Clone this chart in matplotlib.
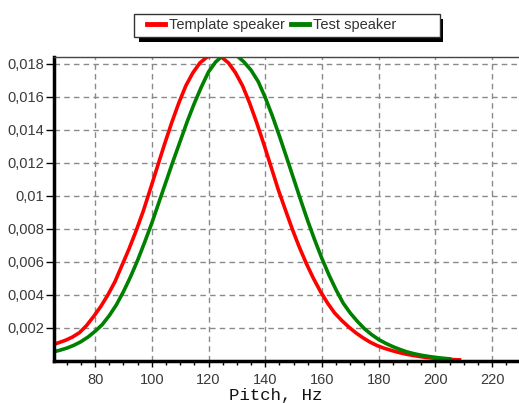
import matplotlib
matplotlib.use('Agg')
import matplotlib.pyplot as plt
from matplotlib.patches import Rectangle
from matplotlib.lines import Line2D
from matplotlib.ticker import MultipleLocator

# values (the peaks go just past the top of the axes)
red_hz = [65, 67, 69.5, 72, 74.5, 77, 79.5, 82, 84.5, 87, 89.5, 92, 94.5, 97,
          99.5, 102, 104.5, 107, 109.5, 112, 114.5, 117, 119.5, 122, 124.5,
          127, 129.5, 132, 134.5, 137, 139.5, 142, 144.5, 147, 149.5, 152,
          154.5, 157, 159.5, 162, 164.5, 167, 169.5, 172, 174.5, 177, 179.5,
          182, 184.5, 187, 189.5, 192, 194.5, 197, 199.5, 202, 204.5, 207, 208.5]
red_val = [0.00098, 0.0011, 0.00125, 0.00145, 0.00172, 0.00215, 0.0027,
           0.0033, 0.0040, 0.0048, 0.0058, 0.0068, 0.0079, 0.00908, 0.01042,
           0.01178, 0.01313, 0.01442, 0.01561, 0.01666, 0.01745, 0.01805,
           0.0184, 0.0185, 0.0184, 0.01805, 0.01745, 0.01666, 0.01561,
           0.01442, 0.01313, 0.01178, 0.01042, 0.0092, 0.0080, 0.0069, 0.0059,
           0.0050, 0.0042, 0.0035, 0.0029, 0.00245, 0.00205, 0.0017, 0.0014,
           0.00114, 0.00093, 0.00077, 0.00064, 0.00052, 0.00042, 0.00034,
           0.00027, 0.00021, 0.00017, 0.00013, 0.0001, 0.00008, 0.00007]
green_hz = [65, 67.5, 70, 72.5, 75, 77.5, 80, 82.5, 85, 87.5, 90, 92.5, 95,
            97.5, 100, 102.5, 105, 107.5, 110, 112.5, 115, 117.5, 120, 122.5,
            125, 127.5, 130, 132.5, 135, 137.5, 140, 142.5, 145, 147.5, 150,
            152.5, 155, 157.5, 160, 162.5, 165, 167.5, 170, 172.5, 175, 177.5,
            180, 182.5, 185, 187.5, 190, 192.5, 195, 197.5, 200, 202.5, 205]
green_val = [0.00054, 0.00065, 0.00078, 0.00095, 0.00117, 0.00145, 0.0018,
             0.0022, 0.00275, 0.0034, 0.0042, 0.0051, 0.0061, 0.0072, 0.00835,
             0.0096, 0.01085, 0.0121, 0.0133, 0.0145, 0.0156, 0.0166, 0.0175,
             0.0181, 0.01848, 0.0186, 0.01848, 0.0181, 0.0176, 0.01692,
             0.01595, 0.01484, 0.01362, 0.01234, 0.01104, 0.00974, 0.00848,
             0.0073, 0.0062, 0.0052, 0.0043, 0.0035, 0.0029, 0.0024, 0.00195,
             0.0016, 0.0013, 0.00107, 0.00087, 0.0007, 0.00055, 0.00044,
             0.00035, 0.00028, 0.00022, 0.00017, 0.00013]

x_ticks = [80, 100, 120, 140, 160, 180, 200, 220]
y_ticks = [0.002, 0.004, 0.006, 0.008, 0.01, 0.012, 0.014, 0.016, 0.018]
y_tick_labels = ['0,002', '0,004', '0,006', '0,008', '0,01', '0,012',
                 '0,014', '0,016', '0,018']
series_names = ['Template speaker', 'Test speaker']
series_colors = ['#ff0000', '#008000']

plt.rcParams['font.family'] = ['Liberation Sans', 'DejaVu Sans']

W, H = 519, 403
fig = plt.figure(figsize=(W / 100, H / 100), dpi=100)
ax = fig.add_axes([54 / W, 1 - 361 / H, 1 - 54 / W, (361 - 57) / H])

ax.plot(red_hz, red_val, color=series_colors[0], lw=2.6)
ax.plot(green_hz, green_val, color=series_colors[1], lw=2.6)

ax.set_xlim(65.5, 229.5)
ax.set_ylim(0, 0.0184)
ax.set_xticks(x_ticks)
ax.xaxis.set_minor_locator(MultipleLocator(5))
ax.set_yticks(y_ticks)
ax.set_yticklabels(y_tick_labels)

ax.grid(True, which='major', color='#8a8a8a', linestyle=(0, (4, 3)), lw=1)
ax.set_axisbelow(True)

for s in ['left', 'bottom']:
    ax.spines[s].set_linewidth(2.5)
    ax.spines[s].set_color('black')
ax.spines['top'].set_linewidth(1)
ax.spines['top'].set_color('#444444')
ax.spines['right'].set_visible(False)

ax.tick_params(axis='x', which='major', direction='out', length=4.5, width=1,
               pad=4, labelsize=10.5, labelcolor='#3a3a3a')
ax.tick_params(axis='x', which='minor', direction='out', length=3, width=1)
ax.tick_params(axis='y', direction='out', length=5.5, width=1, pad=1.5,
               labelsize=10.5, labelcolor='#3a3a3a')

fig.text(276 / W, 1 - 400 / H, 'Pitch, Hz', family='Liberation Mono',
         fontsize=12.5, ha='center', va='baseline', color='#111111')

# legend frame with shadow
fig.patches.append(Rectangle((139 / W, 1 - 42 / H), (443 - 139) / W, (42 - 19) / H,
                             transform=fig.transFigure, fc='black', ec='none', zorder=1))
fig.patches.append(Rectangle((134 / W, 1 - 37 / H), (440 - 134) / W, (37 - 14) / H,
                             transform=fig.transFigure, fc='white', ec='#333333',
                             lw=1, zorder=2))
handles = [Line2D([], [], color=c, lw=3.5) for c in series_colors]
leg = fig.legend(handles, series_names, loc='center left',
                 bbox_to_anchor=(134 / W, 1 - 25.5 / H), frameon=False, ncol=2,
                 handlelength=1.25, handletextpad=0.28, columnspacing=0.4,
                 fontsize=10.5, labelcolor='#333333')
leg.set_zorder(3)

fig.savefig('out.png', dpi=100)
